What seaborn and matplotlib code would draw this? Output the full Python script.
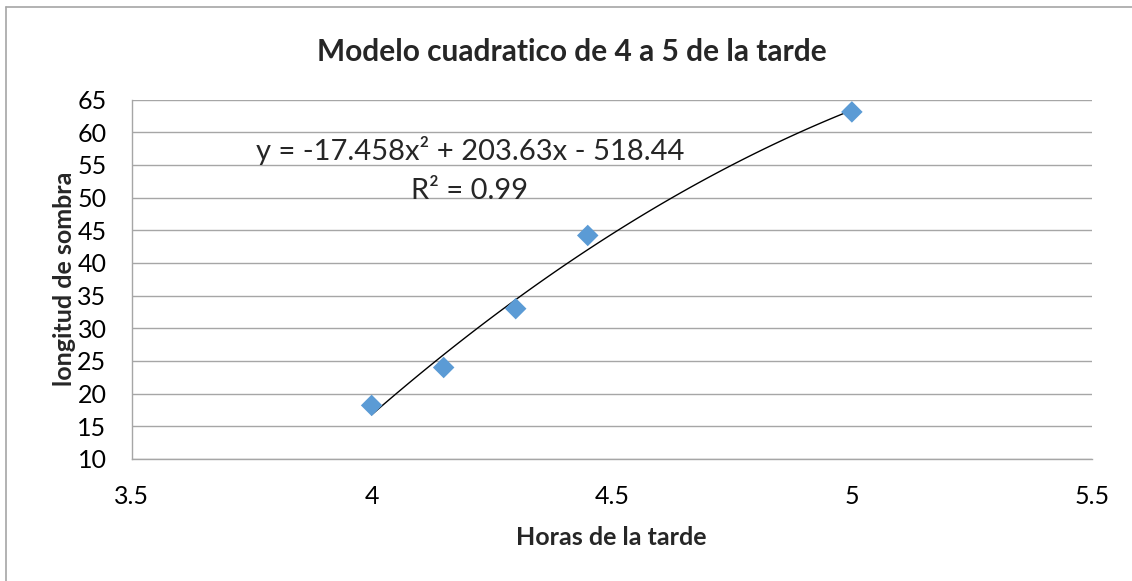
import matplotlib
matplotlib.use('Agg')
import matplotlib.pyplot as plt
import seaborn as sns
import pandas as pd
from matplotlib.lines import Line2D

# data
horas = [4.0, 4.15, 4.3, 4.45, 5.0]
sombra = [18.2, 24.0, 33.0, 44.2, 63.1]
eq_text = "y = -17.458x² + 203.63x - 518.44"
r2_text = "R² = 0.99"
x_ticks = [3.5, 4, 4.5, 5, 5.5]
x_labels = ["3.5", "4", "4.5", "5", "5.5"]
y_ticks = [10, 15, 20, 25, 30, 35, 40, 45, 50, 55, 60, 65]

df = pd.DataFrame({"horas": horas, "sombra": sombra})

sns.set_style("white")
plt.rcParams['font.family'] = ['Lato', 'DejaVu Sans']

W, H = 1132, 581
fig = plt.figure(figsize=(W / 100, H / 100), dpi=100)
ax = fig.add_axes([131.5 / W, 1 - 459 / H, (1092 - 131.5) / W, (459 - 99.5) / H])

# trendline (2nd order polynomial) and points
sns.regplot(data=df, x="horas", y="sombra", order=2, ci=None, truncate=True,
            scatter=False, line_kws={"color": "black", "lw": 1.0}, ax=ax)
sns.scatterplot(data=df, x="horas", y="sombra", marker="D", s=120,
                color="#5B9BD5", edgecolor="none", zorder=3, ax=ax)

ax.set_xlim(3.5, 5.5)
ax.set_ylim(10, 65)
ax.set_xticks(x_ticks)
ax.set_xticklabels(x_labels)
ax.set_yticks(y_ticks)
ax.yaxis.grid(True, color="#A6A6A6", lw=1.0)
ax.set_axisbelow(True)
ax.tick_params(axis="both", length=0, labelsize=18, colors="black")
ax.tick_params(axis="x", pad=19)
ax.tick_params(axis="y", pad=18)

for s in ["top", "right"]:
    ax.spines[s].set_visible(False)
for s in ["left", "bottom"]:
    ax.spines[s].set_color("#A6A6A6")
    ax.spines[s].set_linewidth(1.0)

ax.set_xlabel("Horas de la tarde", fontsize=18, fontweight="bold", labelpad=13)
ax.set_ylabel("longitud de sombra", fontsize=18, fontweight="bold", labelpad=1)

fig.text(572 / W, 1 - 52 / H, "Modelo cuadratico de 4 a 5 de la tarde",
         ha="center", va="center", fontsize=21.5, fontweight="bold")

fig.text(470 / W, 1 - 151 / H, eq_text, ha="center", va="center", fontsize=21)
fig.text(470 / W, 1 - 191 / H, r2_text, ha="center", va="center", fontsize=21)

# chart area border (left and top visible)
fig.add_artist(Line2D([5.5 / W, 5.5 / W], [0, 1 - 6.5 / H], transform=fig.transFigure,
                      color="#A6A6A6", lw=1.2))
fig.add_artist(Line2D([5.5 / W, 1], [1 - 6.5 / H, 1 - 6.5 / H], transform=fig.transFigure,
                      color="#A6A6A6", lw=1.2))

plt.savefig("out.png", dpi=100)
plt.close()
